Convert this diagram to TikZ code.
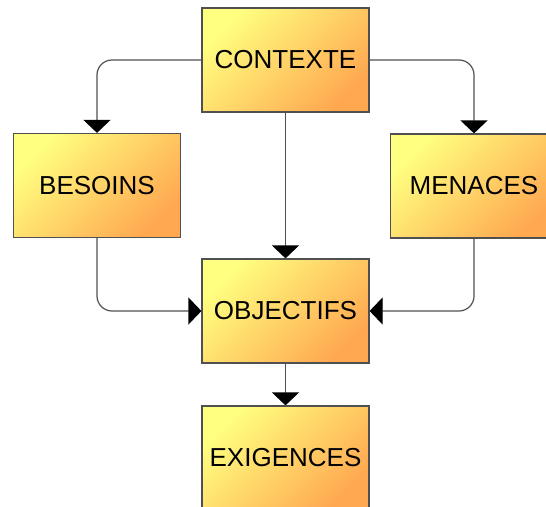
\documentclass[tikz,border=0pt]{standalone}
\usepackage{fontspec}
\setmainfont{Liberation Sans}
\usetikzlibrary{arrows.meta}
\definecolor{boxyellow}{HTML}{FFFF80}
\definecolor{boxmid}{HTML}{FFBE5A}
\definecolor{boxorange}{HTML}{FFA850}
\definecolor{boxline}{HTML}{505050}
\pgfdeclarelayer{bg}
\pgfsetlayers{bg,main}
\tikzset{
    every node/.style={rectangle, draw=boxline, line width=1.2bp, inner sep=0mm,
        minimum width=167bp, minimum height=104bp,
        top color=boxyellow, middle color=boxmid, bottom color=boxorange, shading angle=45,
        font=\fontsize{26bp}{30bp}\selectfont}
}
\tikzset{link/.style={draw=boxline, line width=1.2bp, rounded corners=15bp,
    -{Triangle[length=13bp, width=27bp, black]}}}

\begin{document}
\begin{tikzpicture}
        \clip (0bp, 0bp) rectangle (546bp, -507bp);
        \node (ctx) at (285.5bp, -60bp) {CONTEXTE};
        \node (bes) at (97bp, -185.5bp) {BESOINS};
        \node (men) at (474bp, -186bp) {MENACES};
        \node (obj) at (285.5bp, -311bp) {OBJECTIFS};
        \node (exi) at (285.5bp, -458bp) {EXIGENCES};
        \begin{pgfonlayer}{bg}
                \draw [link] (ctx.west) -| (bes.north);
                \draw [link] (ctx.east) -| (men.north);
                \draw (ctx) edge [link] (obj);
                \draw [link] (bes.south) |- (obj.west);
                \draw [link] (men.south) |- (obj.east);
                \draw (obj) edge [link] (exi);
        \end{pgfonlayer}
\end{tikzpicture}
\end{document}
